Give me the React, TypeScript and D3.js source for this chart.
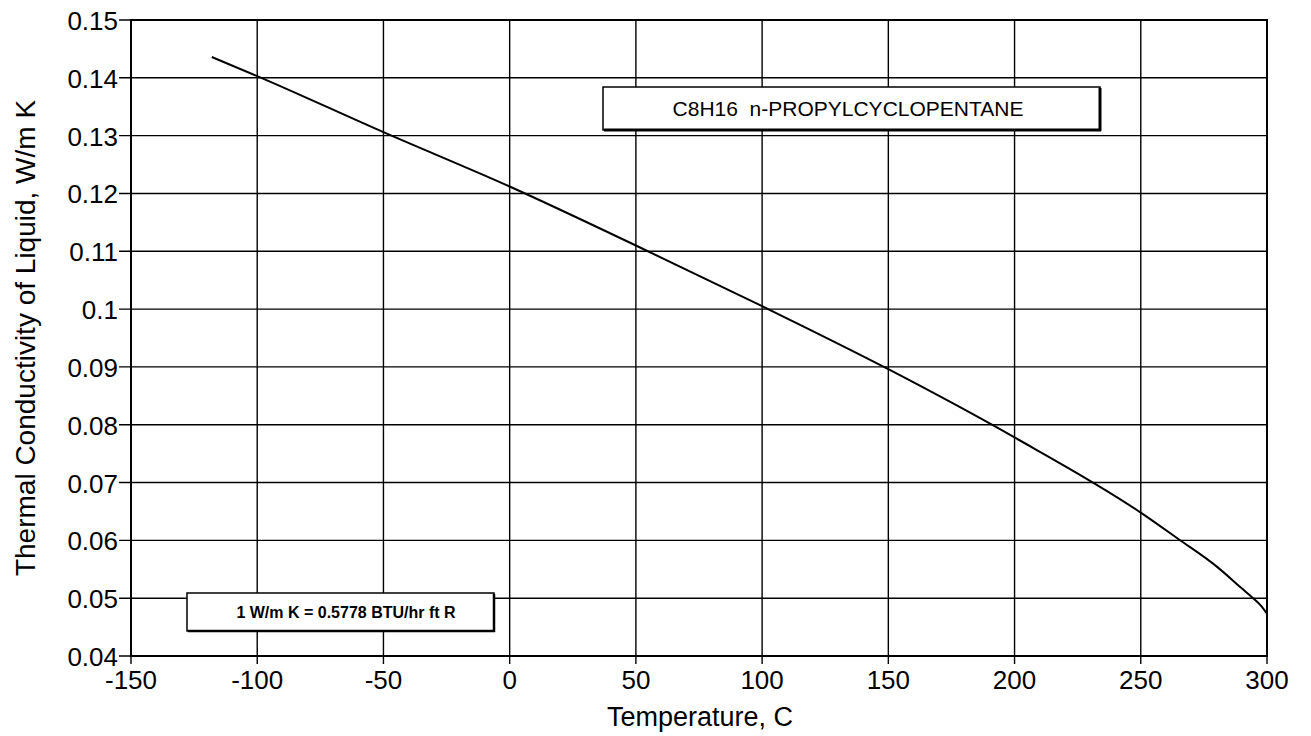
import React from "react";
import * as d3 from "d3";

const temps = [-118, -100, -50, 0, 50, 100, 150, 200, 250, 265, 280, 290, 295, 298, 300];
const conductivity = [0.1436, 0.1403, 0.1306, 0.1212, 0.111, 0.1005, 0.0896, 0.0778, 0.0648, 0.0602, 0.0555, 0.0517, 0.0498, 0.0485, 0.0473];
const xTicks = [-150, -100, -50, 0, 50, 100, 150, 200, 250, 300];
const yTicks = [0.04, 0.05, 0.06, 0.07, 0.08, 0.09, 0.1, 0.11, 0.12, 0.13, 0.14, 0.15];
const titleText = "C8H16  n-PROPYLCYCLOPENTANE";
const unitText = "1 W/m K = 0.5778 BTU/hr ft R";
const xLabel = "Temperature, C";
const yLabel = "Thermal Conductivity of Liquid, W/m K";

const W = 1311, H = 736;
const L = 131, R = 1267, T = 20, B = 656;
const font = "Arial, 'Liberation Sans', Helvetica, sans-serif";

export default function App() {
  const x = d3.scaleLinear().domain([-150, 300]).range([L, R]);
  const y = d3.scaleLinear().domain([0.04, 0.15]).range([B, T]);
  const pts = temps.map((t, i) => [t, conductivity[i]] as [number, number]);
  const line = d3.line<[number, number]>().x(d => x(d[0])).y(d => y(d[1])).curve(d3.curveMonotoneX);
  return (
    <svg width={W} height={H} style={{ position: "absolute", left: 0, top: 0, background: "#fff" }} fontFamily={font}>
      {xTicks.map(t => (
        <g key={"x" + t}>
          <line x1={x(t)} x2={x(t)} y1={T} y2={B + 8} stroke="#000" strokeWidth={1.4} />
          <text x={x(t)} y={B + 33} textAnchor="middle" fontSize={26}>{t}</text>
        </g>
      ))}
      {yTicks.map(v => (
        <g key={"y" + v}>
          <line x1={L - 12} x2={R} y1={y(v)} y2={y(v)} stroke="#000" strokeWidth={1.4} />
          <text x={L - 13} y={y(v) + 10} textAnchor="end" fontSize={26}>{String(+v.toFixed(2))}</text>
        </g>
      ))}
      <rect x={L} y={T} width={R - L} height={B - T} fill="none" stroke="#000" strokeWidth={2} />
      <path d={line(pts) || ""} fill="none" stroke="#000" strokeWidth={2} />
      <g>
        <rect x={603} y={87} width={497} height={43} fill="#fff" stroke="#000" strokeWidth={1.5} />
        <line x1={1100} x2={1100} y1={88} y2={131} stroke="#000" strokeWidth={3} />
        <line x1={604} x2={1101} y1={130} y2={130} stroke="#000" strokeWidth={3} />
        <text x={848} y={116} textAnchor="middle" fontSize={21} style={{ whiteSpace: "pre" }}>{titleText}</text>
      </g>
      <g>
        <rect x={187} y={593} width={307} height={38} fill="#fff" stroke="#000" strokeWidth={1.5} />
        <line x1={494} x2={494} y1={594} y2={632} stroke="#000" strokeWidth={2.5} />
        <line x1={188} x2={495} y1={631} y2={631} stroke="#000" strokeWidth={2.5} />
        <text x={346} y={618} textAnchor="middle" fontSize={16} fontWeight="bold">{unitText}</text>
      </g>
      <text x={700} y={726} textAnchor="middle" fontSize={27}>{xLabel}</text>
      <text transform={`translate(35,338) rotate(-90)`} textAnchor="middle" fontSize={28}>{yLabel}</text>
    </svg>
  );
}
